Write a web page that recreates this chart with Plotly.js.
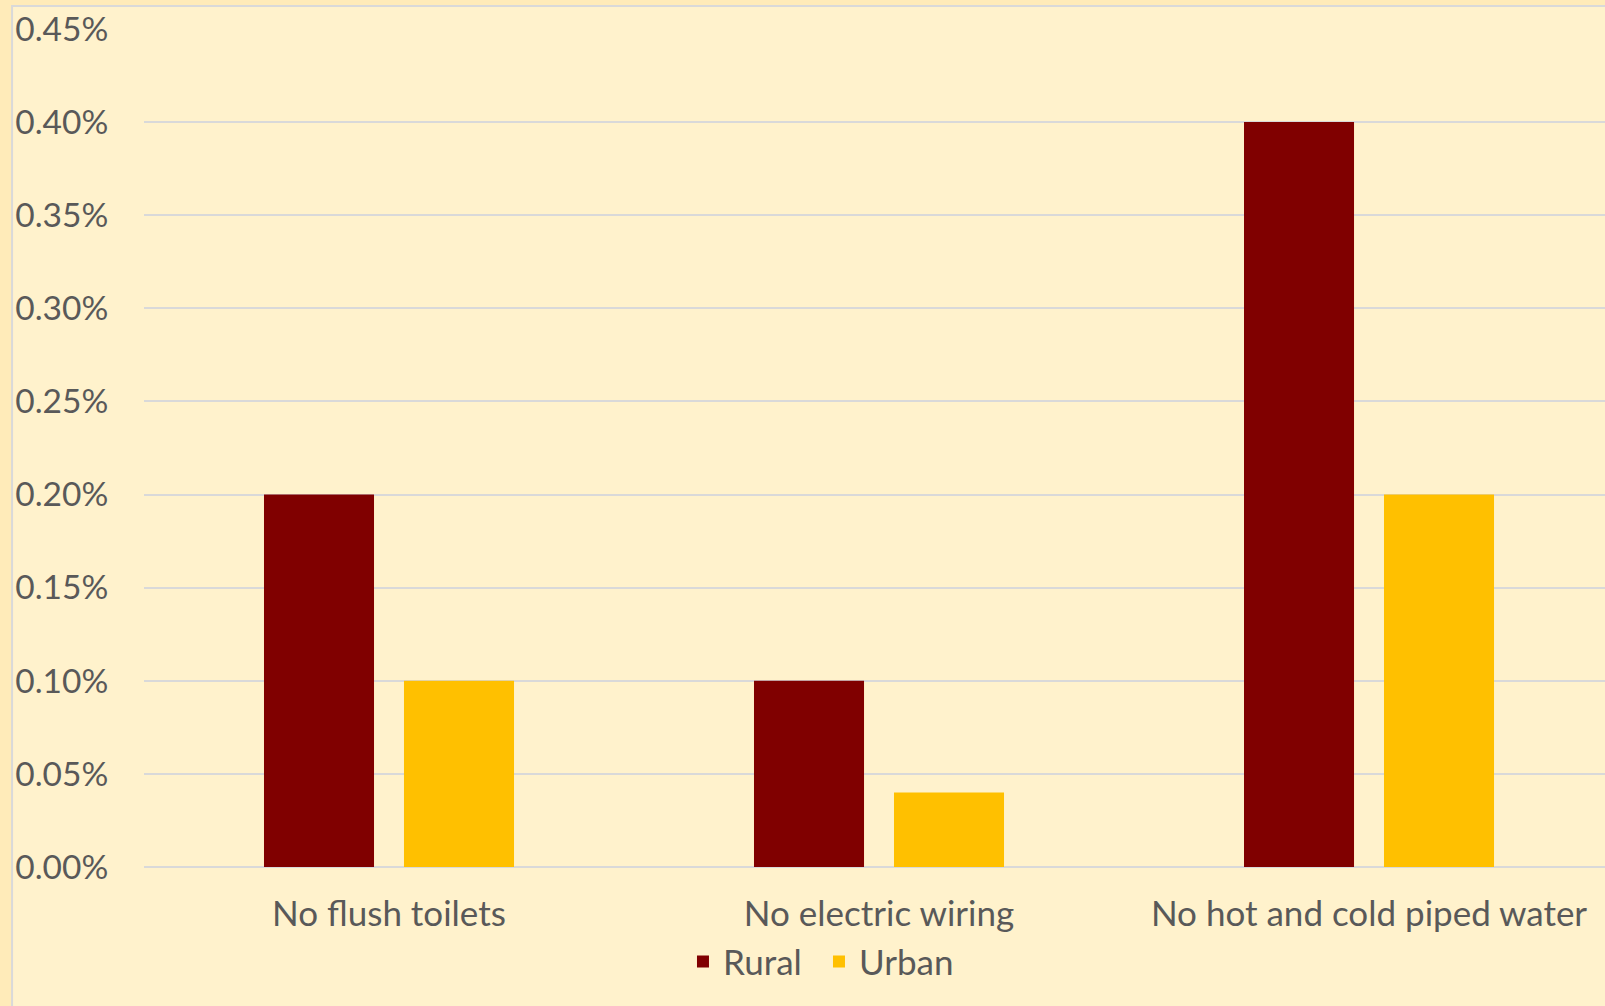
<!DOCTYPE html>
<html>
<head>
<meta charset="utf-8">
<script src="https://cdn.plot.ly/plotly-3.0.1.min.js"></script>
<style>
  html, body { margin: 0; padding: 0; background: #FFEBB9; }
  #chart { width: 1605px; height: 1006px; }
</style>
</head>
<body>
<div id="chart"></div>
<script>
const categories = ["No flush toilets", "No electric wiring", "No hot and cold piped water"];
const rural = [0.002, 0.001, 0.004];
const urban = [0.001, 0.0004, 0.002];
const yTicks = [0, 0.0005, 0.001, 0.0015, 0.002, 0.0025, 0.003, 0.0035, 0.004, 0.0045];

const textColor = "#595959";
const gridColor = "#D9D9D9";
const bg = "#FFF2CC";
const fontFamily = "Lato, 'Open Sans', sans-serif";

const traces = [
  { type: "bar", name: "Rural", x: categories, y: rural,
    marker: { color: "#800000", line: { width: 0 } }, hoverinfo: "y" },
  { type: "bar", name: "Urban", x: categories, y: urban,
    marker: { color: "#FFC000", line: { width: 0 } }, hoverinfo: "y" }
];

const layout = {
  width: 1605, height: 1006,
  margin: { l: 144, r: 0, t: 29, b: 139 },
  paper_bgcolor: "#FFEBB9",
  plot_bgcolor: bg,
  font: { family: fontFamily, color: textColor, size: 34 },
  barmode: "group",
  bargap: 0.4286,
  bargroupgap: 0.214,
  showlegend: true,
  legend: {
    orientation: "h", x: 0.462, xanchor: "center", y: -0.113, yanchor: "middle",
    font: { size: 35, color: textColor }, bgcolor: "rgba(0,0,0,0)", itemwidth: 30,
    entrywidth: 91
  },
  xaxis: {
    type: "category", range: [-0.5, 2.4816],
    showgrid: false, zeroline: false, showline: false,
    ticks: "outside", ticklen: 16, tickcolor: "rgba(0,0,0,0)",
    tickfont: { size: 35, color: textColor }
  },
  yaxis: {
    range: [0, 0.0045], tickvals: yTicks, tickformat: ".2%",
    showgrid: true, gridcolor: gridColor, gridwidth: 2,
    zeroline: true, zerolinecolor: gridColor, zerolinewidth: 2,
    showline: false,
    ticks: "outside", ticklen: 28, tickcolor: "rgba(0,0,0,0)",
    tickfont: { size: 33.5, color: textColor }
  },
  shapes: [
    { type: "rect", xref: "paper", yref: "paper", layer: "below",
      x0: -0.0903, x1: 1.05, y0: -0.3, y1: 1.0274,
      fillcolor: bg, line: { color: gridColor, width: 2 } }
  ]
};

Plotly.newPlot("chart", traces, layout, { displayModeBar: false, staticPlot: true });
</script>
</body>
</html>
